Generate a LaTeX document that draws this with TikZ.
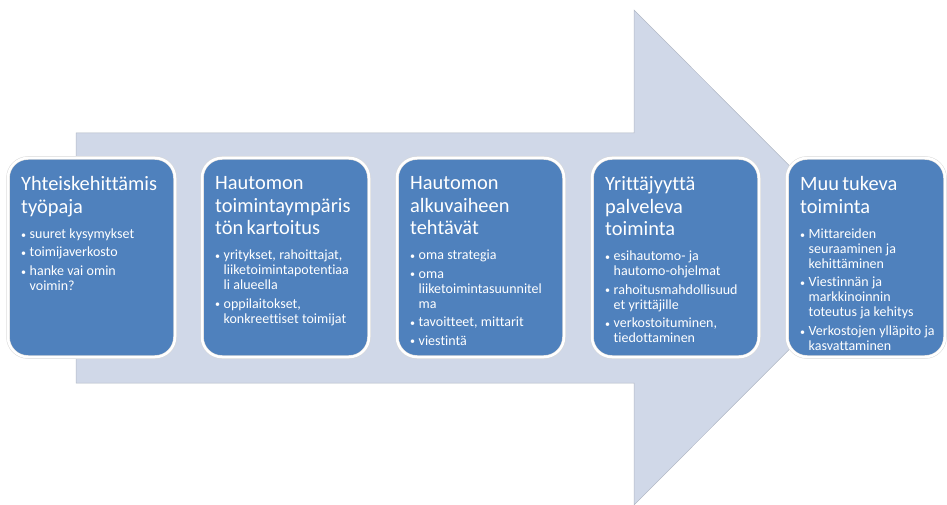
\documentclass[tikz,border=0pt]{standalone}
\usepackage{fontspec}
\setmainfont[Ligatures=NoCommon]{Carlito}
\usepackage{tikz}
\usetikzlibrary{positioning}
\definecolor{nuoli}{HTML}{D0D8E8}
\definecolor{laatikko}{HTML}{4F81BD}
\newcommand{\otsikko}[1]{{\fontsize{20.4}{22.5}\selectfont #1\par}\vspace{6.5pt}%
  \fontsize{14}{15}\selectfont\setlength{\parskip}{3.5pt}}
\newcommand{\kohta}[1]{\par\hangindent=8.5pt\hangafter=1\noindent
  \makebox[8.5pt][l]{\raisebox{0.3pt}{\fontsize{10}{10}\selectfont\textbullet}}#1\par}

\begin{document}
\begin{tikzpicture}[
  x=1pt,y=-1pt,
  vaihe/.style={
    draw=black!15,line width=0.5pt,
    double=white,double distance=2.5pt,
    fill=laatikko,
    rounded corners=20pt,
    minimum width=167pt,minimum height=199pt,
    inner sep=0,outer sep=0,anchor=north west
  },
  teksti/.style={
    anchor=north west,inner sep=0,
    text width=152pt,align=left,text=white
  }
]
\useasboundingbox (0,0) rectangle (947,505);
\begin{scope}
\clip (0,0) rectangle (947,505);

% the big arrow behind the boxes
\fill[nuoli,draw=nuoli!85!black,line width=0.5pt]
  (76,133) -- (634,133) -- (634,10) -- (881,257.5)
  -- (634,505) -- (634,383) -- (76,383) -- cycle;

\node[vaihe] (b1) at (8,158) {};
\node[vaihe] (b2) at (202,158) {};
\node[vaihe] (b3) at (397,158) {};
\node[vaihe] (b4) at (592,158) {};
\node[vaihe,minimum width=158pt] (b5) at (787,158) {};

\node[teksti] (t1) at ([xshift=13pt,yshift=-18.5pt]b1.north west) {%
  \otsikko{Yhteiskehittämis\newline työpaja}
  \kohta{suuret kysymykset}
  \kohta{toimijaverkosto}
  \kohta{hanke vai omin\newline voimin?}};
\node[teksti] (t2) at ([xshift=13pt,yshift=-18.5pt]b2.north west) {%
  \otsikko{Hautomon\newline toimintaympäris\newline tön kartoitus}
  \kohta{yritykset, rahoittajat,\newline liiketoimintapotentiaa\newline li alueella}
  \kohta{oppilaitokset,\newline konkreettiset toimijat}};
\node[teksti] (t3) at ([xshift=13pt,yshift=-18.5pt]b3.north west) {%
  \otsikko{Hautomon\newline alkuvaiheen\newline tehtävät}
  \kohta{oma strategia}
  \kohta{oma\newline liiketoimintasuunnitel\newline ma}
  \kohta{tavoitteet, mittarit}
  \kohta{viestintä}};
\node[teksti] (t4) at ([xshift=13pt,yshift=-18.5pt]b4.north west) {%
  \otsikko{Yrittäjyyttä\newline palveleva\newline toiminta}
  \kohta{esihautomo- ja\newline hautomo-ohjelmat}
  \kohta{rahoitusmahdollisuud\newline et yrittäjille}
  \kohta{verkostoituminen,\newline tiedottaminen}};
\node[teksti] (t5) at ([xshift=13pt,yshift=-18.5pt]b5.north west) {%
  \otsikko{Muu tukeva\newline toiminta}
  \kohta{Mittareiden\newline seuraaminen ja\newline kehittäminen}
  \kohta{Viestinnän ja\newline markkinoinnin\newline toteutus ja kehitys}
  \kohta{Verkostojen ylläpito ja\newline kasvattaminen}};
\end{scope}
\end{tikzpicture}
\end{document}
